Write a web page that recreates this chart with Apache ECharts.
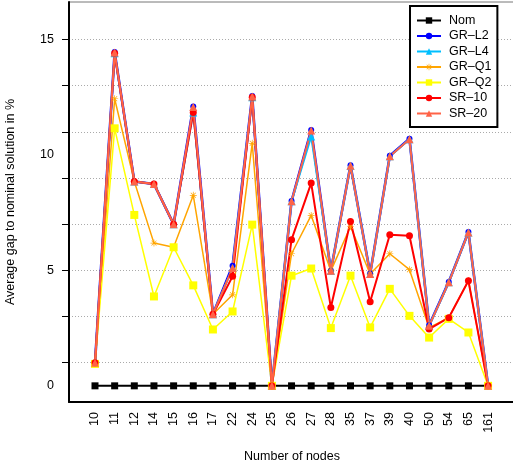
<!DOCTYPE html>
<html>
<head>
<meta charset="utf-8">
<script src="https://cdn.jsdelivr.net/npm/echarts@6/dist/echarts.min.js"></script>
<style>html,body{margin:0;padding:0;background:#fff}#c{width:513px;height:467px}</style>
</head>
<body>
<div id="c"></div>
<script>
var categories = ['10','11','12','14','15','16','17','22','24','25','26','27','28','35','37','39','40','50','54','65','161'];
var nom   = [0,0,0,0,0,0,0,0,0,0,0,0,0,0,0,0,0,0,0,0,0];
var grL2  = [1.0,14.45,8.85,8.74,7.0,12.1,3.1,5.2,12.55,0,8.0,11.08,4.98,9.55,4.86,9.96,10.7,2.62,4.5,6.66,0];
var grL4  = [1.0,14.4,8.85,8.74,7.0,11.84,3.1,5.1,12.5,0,7.99,10.8,4.98,9.53,4.84,9.94,10.68,2.6,4.48,6.64,0];
var grQ1  = [1.0,12.43,8.85,6.18,6.0,8.25,3.1,3.94,10.5,0,5.72,7.38,4.98,6.9,4.84,5.72,5.03,2.52,2.95,4.55,0];
var grQ2  = [0.95,11.15,7.4,3.87,6.0,4.35,2.44,3.22,6.98,0,4.77,5.08,2.5,4.77,2.53,4.2,3.03,2.09,2.9,2.31,0];
var sr10  = [1.0,14.4,8.85,8.74,7.0,11.84,3.1,4.74,12.5,0,6.33,8.78,3.39,7.12,3.64,6.54,6.5,2.46,2.95,4.55,0];
var sr20  = [1.0,14.43,8.85,8.74,7.0,12.07,3.1,5.1,12.53,0,7.99,11.06,4.98,9.53,4.84,9.94,10.68,2.6,4.48,6.64,0];
var yLabels = [0,5,10,15];
var yTicks = [1,3,5,7,9,11,13,15];

function pts(arr){ return arr.map(function(v,i){ return [i, v]; }); }
var idx = categories.map(function(c,i){ return i; });
var star = 'path://M4.5,0h1v10h-1z M0,4.5h10v1h-10z M1.1,1.8l0.7,-0.7l7.1,7.1l-0.7,0.7z M8.2,1.1l0.7,0.7l-7.1,7.1l-0.7,-0.7z';
var FONT = 'Liberation Sans';

function s(name, data, color, symbol, size, width){
  return {name:name, type:'line', data:pts(data), symbol:symbol, symbolSize:size,
    lineStyle:{color:color, width:width}, itemStyle:{color:color}, animation:false, z:2};
}

var chart = echarts.init(document.getElementById('c'), null, {renderer:'canvas'});
chart.setOption({
  animation:false,
  textStyle:{fontFamily:FONT},
  grid:{left:69, top:2, right:-2, bottom:65, show:true, borderColor:'#777', borderWidth:1,
        containLabel:false, outerBoundsMode:'none'},
  legend:{
    orient:'vertical', left:410, top:6, padding:[8,6,7,6],
    borderColor:'#000', borderWidth:2, backgroundColor:'#fff',
    itemWidth:24, itemHeight:8, itemGap:2.5,
    textStyle:{fontFamily:FONT, fontSize:12.5, color:'#000', padding:[0,0,0,3]},
    data:['Nom','GR–L2','GR–L4','GR–Q1','GR–Q2','SR–10','SR–20']
  },
  xAxis:{
    type:'value', min:-1.323, max:21.37,
    name:'Number of nodes', nameLocation:'middle', nameGap:48,
    nameTextStyle:{fontFamily:FONT, fontSize:12.5, color:'#000'},
    axisLine:{onZero:false, lineStyle:{color:'#000', width:2}},
    axisTick:{show:false},
    splitLine:{show:false},
    axisLabel:{customValues:idx, rotate:90, margin:10, fontFamily:FONT, fontSize:12.5, color:'#000',
      formatter:function(v){ return categories[Math.round(v)]; }}
  },
  yAxis:{
    type:'value', min:-0.7, max:16.62, splitNumber:8,
    name:'Average gap to nominal solution in %', nameLocation:'middle', nameGap:52,
    nameTextStyle:{fontFamily:FONT, fontSize:12.5, color:'#000'},
    axisLine:{show:true, onZero:false, lineStyle:{color:'#000', width:2}},
    axisTick:{show:true, customValues:yTicks, length:7, lineStyle:{color:'#000', width:1}},
    axisLabel:{customValues:yLabels, margin:15, fontFamily:FONT, fontSize:12.5, color:'#000'},
    splitLine:{show:true, lineStyle:{color:'#aaa', type:[1,2], width:1}}
  },
  series:[
    s('Nom', nom, '#000000', 'rect', 7, 2),
    s('GR–L2', grL2, '#0000FF', 'circle', 6, 2.6),
    s('GR–L4', grL4, '#00BFFF', 'triangle', 8, 2),
    s('GR–Q1', grQ1, '#FFA500', star, 7, 1.5),
    s('GR–Q2', grQ2, '#FFFF00', 'rect', 8, 1.5),
    s('SR–10', sr10, '#FF0000', 'circle', 7, 2),
    s('SR–20', sr20, '#FF6347', 'triangle', 8, 2)
  ]
});
</script>
</body>
</html>
